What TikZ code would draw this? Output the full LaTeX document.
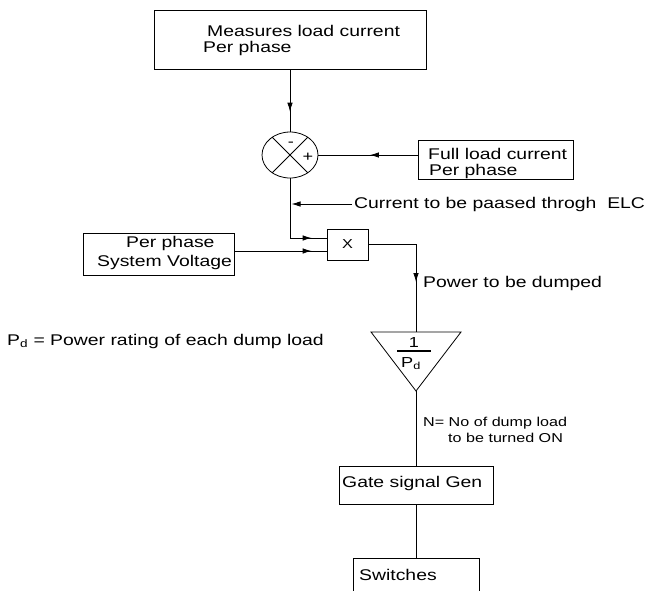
\documentclass[tikz,border=0pt]{standalone}
\usepackage{fontspec}
\setmainfont{Liberation Sans}[FakeStretch=1.25]
\usetikzlibrary{arrows.meta,decorations.markings,calc,shapes.geometric}
\begin{document}
\begin{tikzpicture}[x=1pt,y=-1pt,
  box/.style={draw,line width=0.8pt,rectangle,inner sep=0pt},
  txt/.style={inner sep=0pt,anchor=base west,font=\fontsize{15.5}{16.5}\selectfont},
  stxt/.style={inner sep=0pt,anchor=base west,font=\fontsize{12.9}{16}\selectfont},
  ftxt/.style={inner sep=0pt,font=\fontsize{14.5}{16}\selectfont},
  wire/.style={line width=0.8pt},
  tip/.style={wire,-{Latex[length=9pt,width=5.5pt]}},
  midarrow/.style={wire,postaction={decorate},decoration={markings,mark=at position #1 with {\arrow{Latex[length=9pt,width=5.5pt]}}}},
]
\clip (0,0) rectangle (647,590);
\fill[white] (0,0) rectangle (647,590);

% top box
\node[box,minimum width=272pt,minimum height=59pt] (meas) at (290,39.5) {};
\node[txt] (meast1) at (207,36) {Measures load current};
\node[txt] (meast2) at (203,52) {Per phase};

% summing junction
\node[draw,ellipse,line width=0.8pt,minimum width=56pt,minimum height=46pt,inner sep=0pt] (sum) at (290,155) {};
\draw[wire] (sum.135) -- (sum.-45);
\draw[wire] (sum.45) -- (sum.-135);
\node[ftxt,anchor=center] (minus) at (291,144) {-};
\node[ftxt,anchor=center] (plus) at (308,157) {+};

% full load box
\node[box,minimum width=155pt,minimum height=39pt] (full) at (495.5,159.5) {};
\node[txt] (fullt1) at (428,159) {Full load current};
\node[txt] (fullt2) at (429,175) {Per phase};

\draw[midarrow=0.68] (meas.south) -- (sum.north);
\draw[midarrow=0.48] (full.west |- sum.east) -- (sum.east);

% current label
\node[txt,anchor=west,inner sep=2pt] (cur) at (352,204) {Current to be paased throgh\ \ ELC};
\draw[tip,shorten >=1.5pt] (cur.west) -- (cur.west -| sum.south);

% multiplier
\node[box,minimum width=41pt,minimum height=31pt,font=\fontsize{13}{15}\selectfont] (mult) at (347.5,244.5) {X};
\coordinate (in1) at ([yshift=6.5pt]mult.west);
\coordinate (in2) at ([yshift=-6.5pt]mult.west);

% voltage box
\node[box,minimum width=151pt,minimum height=42pt] (volt) at (158.5,254) {};
\node[txt] (voltt1) at (126,247) {Per phase};
\node[txt] (voltt2) at (97,266) {System Voltage};

\draw[midarrow=-15pt] (sum.south) |- (in1);
\draw[midarrow=-15pt] (volt.east |- in2) -- (in2);

% gain triangle
\coordinate (tl) at (371,332);
\coordinate (tr) at (461,332);
\coordinate (ta) at (416,391);
\coordinate (tt) at (416,332);
\draw[wire] (tl) -- (tr) -- (ta) -- cycle;
\node[ftxt,anchor=base] (one) at (414,347) {1};
\draw[line width=1.1pt] (397,351) -- (431,351);
\node[ftxt,anchor=base west] (pd) at (401,367) {P\textsubscript{d}};

\draw[midarrow=-50pt] (mult.east) -| (tt);
\node[txt] (pow) at (423,287) {Power to be dumped};

\node[txt] (pddef) at (7,345) {P\textsubscript{d} = Power rating of each dump load};

\node[stxt] (n1) at (423,426) {N= No of dump load};
\node[stxt] (n2) at (448,442) {to be turned ON};

% gate and switches
\node[box,minimum width=154pt,minimum height=38pt] (gate) at (416,485) {};
\node[txt] (gatet) at (342,487) {Gate signal Gen};
\node[box,minimum width=126pt,minimum height=42pt] (sw) at (416,579) {};
\node[txt] (swt) at (359,580) {Switches};

\draw[wire] (ta) -- (gate.north);
\draw[wire] (gate.south) -- (sw.north);
\end{tikzpicture}
\end{document}
